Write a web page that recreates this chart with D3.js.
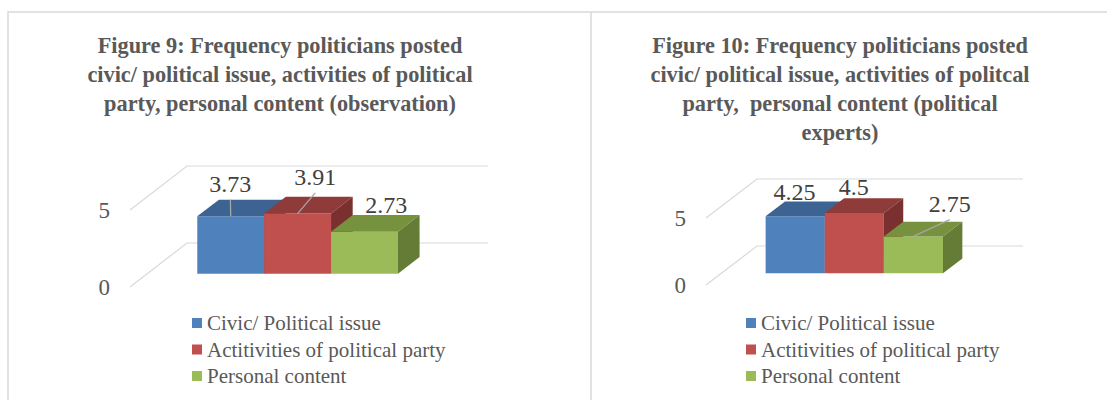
<!DOCTYPE html>
<html lang="en">
<head>
    <meta charset="UTF-8">
    <title>Figures 9 and 10</title>
    <script src="https://d3js.org/d3.v7.min.js"></script>
    <style>
        body { margin: 0; background: #fff; }
        text { font-family: "Liberation Serif", "Times New Roman", serif; }
    </style>
</head>
<body>
    <svg id="chart" width="1107" height="400"></svg>

    <script>
        // data
        const categories = ["Civic/ Political issue", "Actitivities of political party", "Personal content"];
        const observationValues = [3.73, 3.91, 2.73];
        const expertValues = [4.25, 4.5, 2.75];
        const yTicks = [0, 5];
        const observationTitle = [
            "Figure 9: Frequency politicians posted",
            "civic/ political issue, activities of political",
            "party, personal content (observation)"
        ];
        const expertTitle = [
            "Figure 10: Frequency politicians posted",
            "civic/ political issue, activities of politcal",
            "party,  personal content (political",
            "experts)"
        ];

        // colours: front, top, side
        const faceColors = [
            ["#4f81bd", "#3c6392", "#355a86"],
            ["#c0504d", "#8f3b39", "#7a302e"],
            ["#9bbb59", "#77923f", "#657c37"]
        ];

        const panels = [
            { title: observationTitle, values: observationValues, plotX: 130, plotW: 301, baseY: 287, plotH: 77,
              depthX: 57, depthY: 44, titleX: 280, legendX: 192,
              nudge: [[-22, -6], [-4, -10], [0, 0]] },
            { title: expertTitle, values: expertValues, plotX: 706, plotW: 266, baseY: 285, plotH: 67,
              depthX: 51, depthY: 39, titleX: 840, legendX: 746,
              nudge: [[-20, 0], [-20, -1], [17, -8]] }
        ];

        const svg = d3.select("#chart");

        // panel borders
        svg.append("path")
            .attr("d", "M8,400V12H1107M591,12V400")
            .attr("fill", "none")
            .attr("stroke", "#d9d9d9")
            .attr("stroke-width", 1.5);

        const z0 = 0.3, z1 = 0.68;

        panels.forEach(p => {
            const g = svg.append("g");

            const x = d3.scaleBand()
                .domain(categories)
                .range([0, p.plotW])
                .paddingInner(0)
                .paddingOuter(0.75);

            const y = d3.scaleLinear()
                .domain([0, 5])
                .range([p.baseY, p.baseY - p.plotH]);

            const proj = (px, v, z) => [p.plotX + px + z * p.depthX, y(v) - z * p.depthY];
            const pts = arr => arr.map(a => a.join(",")).join(" ");

            // title
            g.append("text")
                .attr("text-anchor", "middle")
                .attr("font-size", 22.3)
                .attr("font-weight", "bold")
                .attr("fill", "#595959")
                .style("white-space", "pre")
                .selectAll("tspan")
                .data(p.title)
                .enter().append("tspan")
                .attr("x", p.titleX)
                .attr("y", (d, i) => 53 + i * 29)
                .text(d => d);

            // gridlines: left wall + back wall
            g.selectAll(".grid")
                .data(yTicks)
                .enter().append("polyline")
                .attr("fill", "none")
                .attr("stroke", "#d9d9d9")
                .attr("stroke-width", 1.2)
                .attr("points", t => pts([proj(0, t, 0), proj(0, t, 1), proj(p.plotW, t, 1)]));

            // axis labels
            g.selectAll(".tick")
                .data(yTicks)
                .enter().append("text")
                .attr("x", p.plotX - 20)
                .attr("y", t => y(t))
                .attr("dy", "0.35em")
                .attr("text-anchor", "end")
                .attr("font-size", 23)
                .attr("fill", "#595959")
                .text(t => t);

            // bars, painted left to right
            p.values.forEach((v, i) => {
                const x0 = x(categories[i]), x1 = x0 + x.bandwidth();
                const c = faceColors[i];
                g.append("polygon").attr("fill", c[0])
                    .attr("points", pts([proj(x0, 0, z0), proj(x1, 0, z0), proj(x1, v, z0), proj(x0, v, z0)]));
                g.append("polygon").attr("fill", c[1])
                    .attr("points", pts([proj(x0, v, z0), proj(x1, v, z0), proj(x1, v, z1), proj(x0, v, z1)]));
                g.append("polygon").attr("fill", c[2])
                    .attr("points", pts([proj(x1, 0, z0), proj(x1, 0, z1), proj(x1, v, z1), proj(x1, v, z0)]));
            });

            // data labels with leader lines
            p.values.forEach((v, i) => {
                const cx = x(categories[i]) + x.bandwidth() / 2;
                const back = proj(cx, v, z1);
                const front = proj(cx, v, z0);
                const n = p.nudge[i];
                const lx = back[0] + n[0], ly = back[1] - 2 + n[1];
                const len = Math.hypot(front[0] - lx, front[1] - (ly + 8));
                if ((n[0] || n[1]) && len >= 14) {
                    g.append("line")
                        .attr("x1", lx).attr("y1", ly + 8)
                        .attr("x2", front[0]).attr("y2", front[1])
                        .attr("stroke", "#a6a6a6")
                        .attr("stroke-width", 1.3);
                }
                g.append("text")
                    .attr("x", lx)
                    .attr("y", ly)
                    .attr("text-anchor", "middle")
                    .attr("font-size", 24)
                    .attr("fill", "#404040")
                    .text(String(v));
            });

            // legend
            const leg = g.selectAll(".legend")
                .data(categories)
                .enter().append("g")
                .attr("transform", (d, i) => `translate(${p.legendX},${330 + i * 26.5})`);
            leg.append("rect")
                .attr("y", -12)
                .attr("width", 10)
                .attr("height", 10)
                .attr("fill", (d, i) => faceColors[i][0]);
            leg.append("text")
                .attr("x", 15)
                .attr("font-size", 21)
                .attr("fill", "#595959")
                .text(d => d);
        });
    </script>
</body>
</html>
